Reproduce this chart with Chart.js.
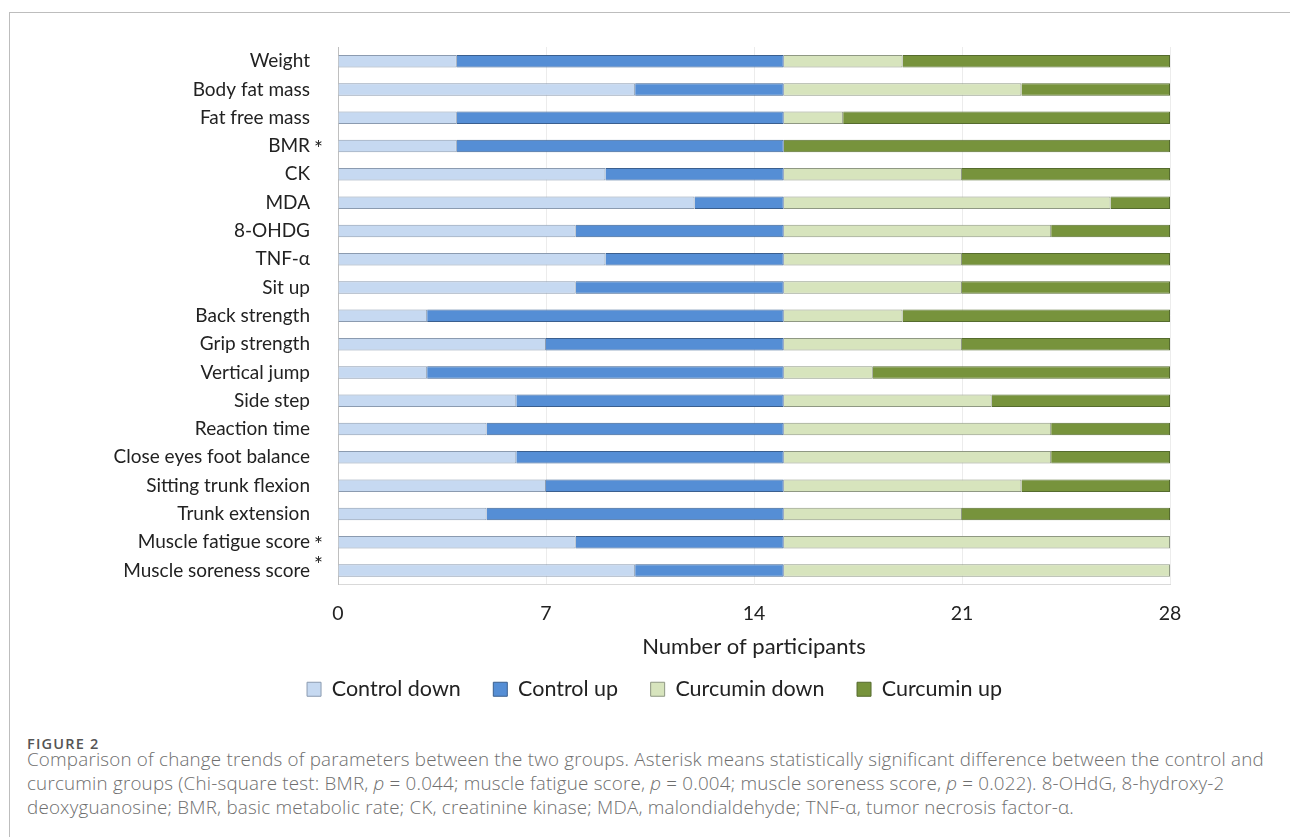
<!DOCTYPE html>
<html>
<head>
<meta charset="utf-8">
<script src="https://cdn.jsdelivr.net/npm/chart.js@4.4.1/dist/chart.umd.min.js"></script>
<style>
  html, body { margin: 0; padding: 0; background: #fff; }
  body { width: 1290px; height: 837px; position: relative; overflow: hidden; }
  #frame { position: absolute; left: 9px; top: 12px; width: 1290px; height: 830px;
           border-left: 1px solid #bdbdbd; border-top: 1px solid #bdbdbd; }
  #wrap { position: absolute; left: 0; top: 0; width: 1290px; height: 710px; }
  #caption { position: absolute; left: 27px; top: 736px; width: 1260px;
             font-family: "Open Sans", sans-serif; color: #6e6e6e; white-space: nowrap; }
  #caption .fig { font-size: 14.5px; line-height: 16px; font-weight: 600; color: #555;
                  letter-spacing: 1.2px; }
  #caption .txt { font-size: 18.8px; line-height: 24px; font-weight: 300;
                  letter-spacing: 0.2px; margin-top: -5px; }
</style>
</head>
<body>
<div id="frame"></div>
<div id="wrap"><canvas id="myChart"></canvas></div>
<div id="caption">
  <div class="fig">FIGURE 2</div>
  <div class="txt">Comparison of change trends of parameters between the two groups. Asterisk means statistically significant difference between the control and<br>curcumin groups (Chi-square test: BMR, <i>p</i> = 0.044; muscle fatigue score, <i>p</i> = 0.004; muscle soreness score, <i>p</i> = 0.022). 8-OHdG, 8-hydroxy-2<br>deoxyguanosine; BMR, basic metabolic rate; CK, creatinine kinase; MDA, malondialdehyde; TNF-α, tumor necrosis factor-α.</div>
</div>
<script>
let categories = ["Weight", "Body fat mass", "Fat free mass", "BMR", "CK", "MDA", "8-OHDG", "TNF-α",
    "Sit up", "Back strength", "Grip strength", "Vertical jump", "Side step", "Reaction time",
    "Close eyes foot balance", "Sitting trunk flexion", "Trunk extension",
    "Muscle fatigue score", "Muscle soreness score"];

let controlDown  = [4, 10, 4, 4, 9, 12, 8, 9, 8, 3, 7, 3, 6, 5, 6, 7, 5, 8, 10];
let controlUp    = [11, 5, 11, 11, 6, 3, 7, 6, 7, 12, 8, 12, 9, 10, 9, 8, 10, 7, 5];
let curcuminDown = [4, 8, 2, 0, 6, 11, 9, 6, 6, 4, 6, 3, 7, 9, 9, 8, 6, 13, 13];
let curcuminUp   = [9, 5, 11, 13, 7, 2, 4, 7, 7, 9, 7, 10, 6, 4, 4, 5, 7, 0, 0];

// asterisks after these labels (chi-square significant)
let significant = ["BMR", "Muscle fatigue score", "Muscle soreness score"];
let xTicks = [0, 7, 14, 21, 28];

let font = "Lato, 'Open Sans', sans-serif";

let asteriskPlugin = {
    id: "asterisks",
    afterDraw(chart) {
        let ctx = chart.ctx;
        let y = chart.scales.y;
        ctx.save();
        ctx.font = "21px " + font;
        ctx.fillStyle = "#222";
        ctx.textAlign = "left";
        ctx.textBaseline = "middle";
        significant.forEach(function(name) {
            let i = categories.indexOf(name);
            let py = y.getPixelForValue(i);
            if (i === categories.length - 1) py -= 8;
            ctx.fillText("*", y.right - 24, py + 3);
        });
        ctx.restore();
    }
};

// the legend in the original is centred a bit right of the canvas middle
let legendShift = {
    id: "legendShift",
    afterLayout(chart) {
        chart.legend.left = 139;
    }
};

let myChart = document.getElementById("myChart").getContext("2d");

let barChart = new Chart(myChart, {
    type: "bar",
    data: {
        labels: categories,
        datasets: [{
            label: "Control down",
            data: controlDown,
            backgroundColor: "#c6d9f1",
            borderColor: "#8b9bb0",
            borderWidth: 1
        }, {
            label: "Control up",
            data: controlUp,
            backgroundColor: "#558ed5",
            borderColor: "#3a5f8f",
            borderWidth: 1
        }, {
            label: "Curcumin down",
            data: curcuminDown,
            backgroundColor: "#d7e4bd",
            borderColor: "#8f9883",
            borderWidth: 1
        }, {
            label: "Curcumin up",
            data: curcuminUp,
            backgroundColor: "#77933c",
            borderColor: "#556b2e",
            borderWidth: 1
        }]
    },
    options: {
        indexAxis: "y",
        responsive: true,
        maintainAspectRatio: false,
        animation: false,
        layout: { padding: { top: 47, right: 120, left: 0, bottom: 0 } },
        datasets: { bar: { barPercentage: 0.44, categoryPercentage: 1 } },
        scales: {
            x: {
                stacked: true,
                min: 0,
                max: 28,
                afterBuildTicks(scale) { scale.ticks = xTicks.map(v => ({ value: v })); },
                grid: { color: "#ececec", drawTicks: false },
                border: { color: "#d9d9d9" },
                ticks: { font: { family: font, size: 19.5 }, color: "#222", padding: 17 },
                title: { display: true, text: "Number of participants",
                         font: { family: font, size: 22 }, color: "#222",
                         padding: { top: -8, bottom: 2 } }
            },
            y: {
                stacked: true,
                afterFit(scale) { scale.width = 338; },
                grid: { display: false },
                border: { color: "#bfbfbf" },
                ticks: { font: { family: font, size: 19 }, color: "#222", padding: 20 }
            }
        },
        plugins: {
            legend: {
                position: "bottom",
                labels: {
                    font: { family: font, size: 21.5 }, color: "#222",
                    boxWidth: 14, boxHeight: 14, padding: 16,
                    // widen the gap between items without growing the legend height
                    generateLabels(chart) {
                        let items = Chart.defaults.plugins.legend.labels.generateLabels(chart);
                        items.forEach(function(item, i) {
                            if (i < items.length - 1) item.text += "   ";
                        });
                        return items;
                    }
                }
            },
            tooltip: { enabled: false }
        }
    },
    plugins: [asteriskPlugin, legendShift]
});
</script>
</body>
</html>
